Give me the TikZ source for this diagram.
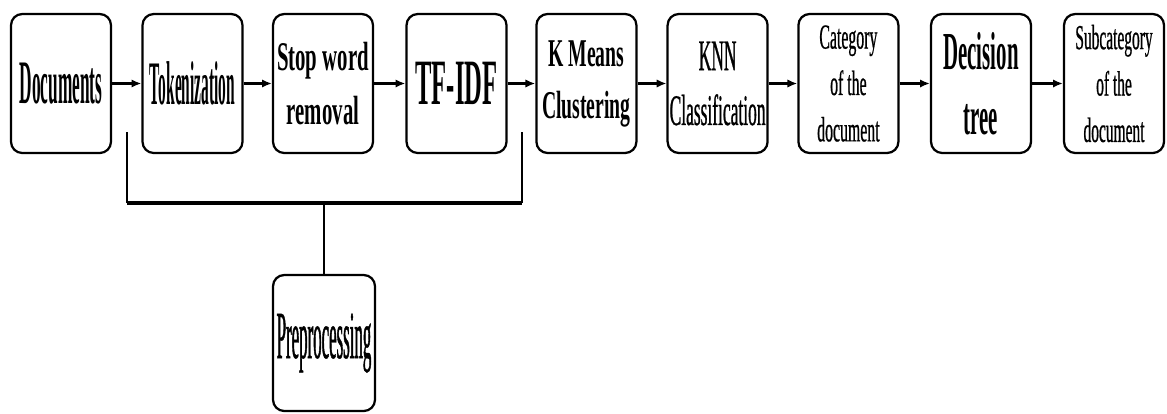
\documentclass[tikz,border=0pt]{standalone}
\usepackage{fontspec}
\setmainfont{Liberation Serif}
\usetikzlibrary{arrows.meta}

% narrow face for the stage labels: size, line skip, stretch
\newcommand{\stagefont}[3]{\fontsize{#1}{#2}\selectfont\addfontfeatures{FakeStretch=#3}}
% same, a little darker for the plain labels
\newcommand{\plainfont}[3]{\fontsize{#1}{#2}\selectfont\addfontfeatures{FakeStretch=#3,FakeBold=0.6}}

\begin{document}
\begin{tikzpicture}[
    stage/.style={draw, rounded corners=8pt, line width=1.6pt,
        minimum width=2.5cm, minimum height=3.475cm,
        inner sep=1pt, align=center},
    flow/.style={line width=1.8pt, -{Latex[length=7pt,width=6pt]}},
    bar/.style={line width=1.2pt}]

\useasboundingbox (0,0) rectangle (29.175,-10.325);

% Pipeline stages
\node [stage, font={\bfseries\stagefont{44pt}{50pt}{0.28}}] (doc) at (1.525,-2.0875) {Documents};
\node [stage, font={\bfseries\stagefont{44pt}{50pt}{0.25}}] (tok) at (4.8125,-2.0875) {Tokenization};
\node [stage, font={\bfseries\stagefont{29pt}{39pt}{0.51}}] (stop) at (8.075,-2.0875) {Stop word\\removal};
\node [stage, font={\bfseries\stagefont{46pt}{50pt}{0.38}}] (tfidf) at (11.4125,-2.0875) {TF-IDF};
\node [stage, font={\bfseries\stagefont{28pt}{37pt}{0.5}}] (kmeans) at (14.66,-2.0875) {K Means\\Clustering};
\node [stage, font={\plainfont{31pt}{39pt}{0.4}}] (knn) at (17.94,-2.0875) {KNN\\Classification};
\node [stage, font={\plainfont{25pt}{33pt}{0.45}}] (cat) at (21.21,-2.0875) {Category\\of the\\document};
\node [stage, font={\bfseries\stagefont{38pt}{46pt}{0.39}}] (tree) at (24.525,-2.0875) {Decision\\tree};
\node [stage, font={\plainfont{25pt}{33pt}{0.44}}] (subcat) at (27.85,-2.0875) {Subcategory\\of the\\document};

% Arrows between stages
\foreach \a/\b in {doc/tok, tok/stop, stop/tfidf, tfidf/kmeans, kmeans/knn, knn/cat, cat/tree, tree/subcat}
    \draw [flow] (\a) -- (\b);

% Preprocessing group
\node [stage, minimum width=2.55cm, minimum height=3.4cm,
    font={\plainfont{48pt}{50pt}{0.25}}] (pre) at (8.1,-8.575) {Preprocessing};

\coordinate (brL) at (3.175,-3.3);
\coordinate (brR) at (13.05,-3.3);
\coordinate (barL) at (3.175,-5.075);
\coordinate (barR) at (13.05,-5.075);

\draw [bar] (brL) -- (barL);
\draw [bar] (brR) -- (barR);
\draw [line width=2.2pt] (barL) -- (barR);
\draw [bar] (pre.north) -- (pre.north |- barL);

\end{tikzpicture}
\end{document}
